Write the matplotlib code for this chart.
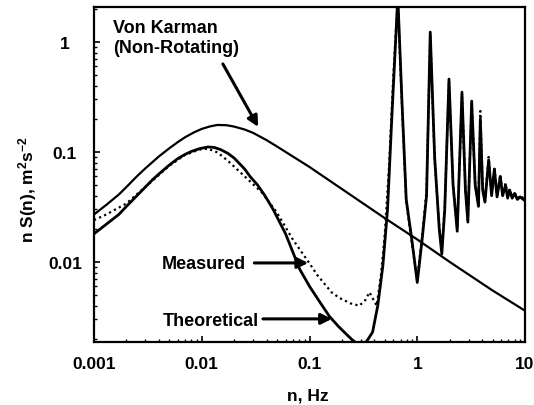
import matplotlib
matplotlib.use("Agg")
import matplotlib.pyplot as plt
from matplotlib.ticker import FixedLocator, LogLocator, NullFormatter

plt.rcParams['font.family'] = ['Liberation Sans', 'DejaVu Sans']
plt.rcParams['font.weight'] = 'bold'
plt.rcParams['mathtext.fontset'] = 'custom'
plt.rcParams['mathtext.rm'] = 'Liberation Sans:bold'
plt.rcParams['mathtext.bf'] = 'Liberation Sans:bold'
plt.rcParams['mathtext.default'] = 'bf'

# ---- data ----
vk_n = [0.001, 0.0013, 0.0017, 0.002, 0.0025, 0.003, 0.004, 0.005, 0.006,
        0.007, 0.0085, 0.01, 0.012, 0.014, 0.017, 0.02, 0.025, 0.03, 0.04,
        0.05, 0.07, 0.1, 0.2, 0.5, 1.0, 2.0, 5.0, 10.0]
vk_s = [0.027, 0.033, 0.041, 0.048, 0.060, 0.071, 0.091, 0.108, 0.123,
        0.136, 0.151, 0.162, 0.171, 0.176, 0.175, 0.170, 0.160, 0.149, 0.128,
        0.112, 0.091, 0.073, 0.046, 0.025, 0.016, 0.0100, 0.0055, 0.0036]

th_n = [0.001, 0.0013, 0.0017, 0.002, 0.0025, 0.003, 0.0035, 0.004, 0.005,
        0.006, 0.007, 0.008, 0.0095, 0.0114, 0.013, 0.015, 0.0175, 0.02, 0.025,
        0.028, 0.033, 0.0386, 0.046, 0.06, 0.081, 0.1, 0.125, 0.153, 0.185,
        0.22, 0.25, 0.28, 0.31, 0.34, 0.385, 0.43,
        0.48, 0.53, 0.58, 0.66, 0.72, 0.79, 0.89, 1.0, 1.11, 1.22, 1.32, 1.45,
        1.6, 1.69, 1.8, 1.97, 2.15, 2.35, 2.6, 2.8, 2.95, 3.2, 3.45, 3.7, 3.85,
        4.05, 4.25, 4.6, 4.9, 5.2, 5.5, 5.9, 6.2, 6.6, 6.9, 7.2, 7.6, 8.0, 8.5,
        9.0, 10.0]
th_s = [0.018, 0.022, 0.027, 0.032, 0.040, 0.048, 0.056, 0.063, 0.076,
        0.087, 0.095, 0.101, 0.107, 0.111, 0.110, 0.105, 0.097, 0.088, 0.070,
        0.060, 0.050, 0.040, 0.030, 0.018, 0.0086, 0.0060, 0.0043, 0.0032,
        0.0026, 0.0022, 0.00195, 0.0018, 0.0018, 0.0019, 0.0023, 0.0040,
        0.0093, 0.030, 0.20, 2.6, 0.30, 0.037, 0.016, 0.0065,
        0.016, 0.04, 1.23, 0.09, 0.02, 0.0118, 0.03, 0.46, 0.05, 0.019, 0.35,
        0.045, 0.023, 0.29, 0.05, 0.032, 0.20, 0.045, 0.035, 0.085, 0.040,
        0.070, 0.039, 0.060, 0.040, 0.050, 0.038, 0.045, 0.038, 0.042, 0.037,
        0.039, 0.036]

me_n = [0.001, 0.0013, 0.002, 0.0035, 0.005, 0.007, 0.0095, 0.0114, 0.014,
        0.0175, 0.025, 0.036, 0.05, 0.07, 0.1, 0.118, 0.16, 0.19, 0.24, 0.29,
        0.33, 0.36, 0.42, 0.46, 0.5, 0.55, 0.6, 0.66, 0.72, 0.79, 0.89, 1.0,
        1.11, 1.22, 1.32, 1.45, 1.6, 1.69, 1.8, 1.97, 2.15, 2.35, 2.6, 2.8,
        2.95, 3.2, 3.45, 3.7, 3.85, 4.05, 4.25, 4.6, 4.9, 5.2, 5.5, 5.9, 6.2,
        6.6, 6.9, 7.2, 7.6, 8.0, 8.5, 9.0, 10.0]
me_s = [0.024, 0.027, 0.034, 0.055, 0.075, 0.094, 0.105, 0.107, 0.099,
        0.083, 0.060, 0.043, 0.028, 0.016, 0.0097, 0.0076, 0.0053, 0.0047,
        0.0042, 0.0040, 0.0045, 0.0053, 0.0040, 0.0075, 0.018, 0.08, 0.5, 2.4,
        0.28, 0.035, 0.015, 0.0070, 0.017, 0.045, 1.15, 0.085, 0.021, 0.013,
        0.032, 0.44, 0.05, 0.020, 0.33, 0.046, 0.024, 0.27, 0.05, 0.033, 0.236,
        0.047, 0.036, 0.09, 0.041, 0.072, 0.040, 0.062, 0.041, 0.052, 0.039,
        0.046, 0.039, 0.043, 0.038, 0.040, 0.037]

x_ticks = [0.001, 0.01, 0.1, 1, 10]
x_tick_labels = ['0.001', '0.01', '0.1', '1', '10']
y_ticks = [0.01, 0.1, 1]
y_tick_labels = ['0.01', '0.1', '1']

fig = plt.figure(figsize=(5.34, 4.06), dpi=100)
ax = fig.add_axes([94 / 534, 1 - 343 / 406, 431 / 534, 335 / 406])

ax.plot(vk_n, vk_s, color='black', lw=1.6)
ax.plot(th_n, th_s, color='black', lw=2.0)
ax.plot(me_n, me_s, color='black', lw=1.6, ls=(0, (1, 1.5)))

ax.set_xscale('log')
ax.set_yscale('log')
ax.set_xlim(0.001, 10)
ax.set_ylim(0.00187, 2.08)

ax.xaxis.set_major_locator(FixedLocator(x_ticks))
ax.set_xticklabels(x_tick_labels)
ax.yaxis.set_major_locator(FixedLocator(y_ticks))
ax.set_yticklabels(y_tick_labels)
ax.xaxis.set_minor_locator(LogLocator(base=10, subs=range(2, 10)))
ax.yaxis.set_minor_locator(LogLocator(base=10, subs=range(2, 10)))
ax.xaxis.set_minor_formatter(NullFormatter())
ax.yaxis.set_minor_formatter(NullFormatter())

ax.tick_params(axis='both', which='major', direction='in', length=4, width=1.2,
               labelsize=12.5)
ax.tick_params(axis='both', which='minor', direction='in', length=2.5, width=1)
ax.tick_params(axis='x', which='major', pad=10)
ax.tick_params(axis='y', which='major', pad=21)
for lab in ax.get_yticklabels():
    lab.set_horizontalalignment('center')
for lab in ax.get_xticklabels() + ax.get_yticklabels():
    lab.set_fontweight('bold')

for sp in ax.spines.values():
    sp.set_linewidth(1.6)

fig.text(308 / 534, 1 - 396 / 406, 'n, Hz', ha='center', va='center',
         fontsize=12.5, fontweight='bold')
fig.text(28 / 534, 1 - 190 / 406, r'n S(n), m$^{2}$s$^{-2}$', rotation=90,
         ha='center', va='center', fontsize=12.5, fontweight='bold')

fs = 13
ax.text(0.044, 0.940, 'Von Karman', transform=ax.transAxes, fontsize=fs,
        fontweight='bold', ha='left', va='center')
ax.text(0.044, 0.878, '(Non-Rotating)', transform=ax.transAxes, fontsize=fs,
        fontweight='bold', ha='left', va='center')
arrow = dict(arrowstyle='-|>', lw=2.2, color='black', mutation_scale=16,
             shrinkA=0, shrinkB=0)
ax.annotate('', xy=(0.381, 0.642), xytext=(0.299, 0.830),
            xycoords='axes fraction', textcoords='axes fraction',
            arrowprops=arrow)

ax.text(0.158, 0.233, 'Measured', transform=ax.transAxes, fontsize=fs,
        fontweight='bold', ha='left', va='center')
ax.annotate('', xy=(0.497, 0.236), xytext=(0.372, 0.236),
            xycoords='axes fraction', textcoords='axes fraction',
            arrowprops=arrow)

ax.text(0.160, 0.063, 'Theoretical', transform=ax.transAxes, fontsize=fs,
        fontweight='bold', ha='left', va='center')
ax.annotate('', xy=(0.552, 0.069), xytext=(0.392, 0.069),
            xycoords='axes fraction', textcoords='axes fraction',
            arrowprops=arrow)

fig.savefig('out.png', dpi=100)
